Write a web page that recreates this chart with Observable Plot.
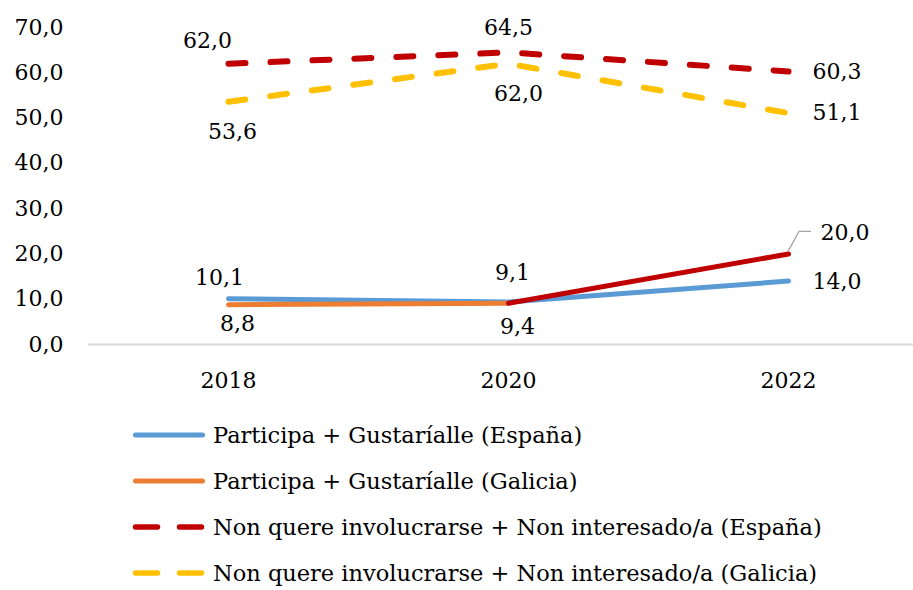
<!DOCTYPE html>
<html><head><meta charset="utf-8">
<script src="https://cdn.jsdelivr.net/npm/d3@7"></script>
<script src="https://cdn.jsdelivr.net/npm/@observablehq/plot@0.6"></script>
<style>
body{margin:0;background:#fff;font-family:"DejaVu Serif",serif;}
#chart{width:913px;height:590px;position:relative;overflow:hidden;background:#fff}
.legend{margin-top:12px}
.row{display:flex;align-items:center;height:46px;padding-left:131px}
.row svg{flex:none}
.row span{margin-left:6px;font-size:22.5px;color:#000;white-space:nowrap}
</style></head><body><div id="chart"></div>
<script>
// ---- data ----
const years = ["2018", "2020", "2022"];
const participaEspana = [10.1, 9.4, 14.0];
const participaGalicia = [8.8, 9.1, 20.0];
const nonQuereEspana = [62.0, 64.5, 60.3];
const nonQuereGalicia = [53.6, 62.0, 51.1];
const seriesNames = [
  "Participa + Gustaríalle (España)",
  "Participa + Gustaríalle (Galicia)",
  "Non quere involucrarse + Non interesado/a (España)",
  "Non quere involucrarse + Non interesado/a (Galicia)"
];
const yTicks = [0, 10, 20, 30, 40, 50, 60, 70];

// ---- styles ----
const C = {blue: "#5B9BD5", orange: "#ED7D31", red: "#C00000", yellow: "#FFC000", axis: "#D9D9D9", leader: "#A6A6A6"};
const fmt = v => v.toFixed(1).replace(".", ",");

// label placements (pixel offsets from each point), per series per year
const placements = [
  [{dx: -9, dy: -21, a: "middle"}, {dx: 9, dy: 25, a: "middle"}, {dx: 24, dy: 1, a: "start"}],
  [{dx: 9, dy: 19, a: "middle"}, {dx: 4, dy: -30, a: "middle"}, {dx: 32, dy: -21, a: "start"}],
  [{dx: -21, dy: -23, a: "middle"}, {dx: 0, dy: -24, a: "middle"}, {dx: 24, dy: 1, a: "start"}],
  [{dx: 4, dy: 30, a: "middle"}, {dx: 10, dy: 30, a: "middle"}, {dx: 24, dy: 0, a: "start"}]
];

const allValues = [participaEspana, participaGalicia, nonQuereEspana, nonQuereGalicia];
const rows = allValues.map((vals, s) => years.map((year, i) => ({series: seriesNames[s], year, value: vals[i]})));

const solidW = 5, dashW = 6, dash = "17,25";

const labelMarks = rows.flatMap((r, s) => r.map((d, i) => {
  const p = placements[s][i];
  return Plot.text([d], {x: "year", y: "value", text: d => fmt(d.value), dx: p.dx, dy: p.dy, textAnchor: p.a, fill: "#000"});
}));

const leader = (index, scales) => {
  const x = scales.x(years[2]), y = scales.y(participaGalicia[2]);
  const path = document.createElementNS("http://www.w3.org/2000/svg", "path");
  path.setAttribute("d", `M${x},${y - 2}L${x + 11},${y - 22}L${x + 23},${y - 22}`);
  path.setAttribute("fill", "none");
  path.setAttribute("stroke", C.leader);
  path.setAttribute("stroke-width", "1.3");
  return path;
};

const chart = Plot.plot({
  width: 913,
  height: 400,
  marginLeft: 88,
  marginRight: 0,
  marginTop: 27,
  marginBottom: 56,
  style: {fontFamily: "DejaVu Serif", fontSize: "22px", color: "#000", background: "#fff", overflow: "visible"},
  x: {type: "point", domain: years, range: [228, 788], padding: 0, tickSize: 0, tickPadding: 28, label: null},
  y: {domain: [0, 70], ticks: yTicks, tickSize: 0, tickPadding: 25, tickFormat: fmt, label: null},
  marks: [
    Plot.ruleY([0], {stroke: C.axis, strokeWidth: 2}),
    Plot.line(rows[2], {x: "year", y: "value", stroke: C.red, strokeWidth: dashW, strokeDasharray: dash, strokeLinecap: "round", strokeLinejoin: "round"}),
    Plot.line(rows[3], {x: "year", y: "value", stroke: C.yellow, strokeWidth: dashW, strokeDasharray: dash, strokeLinecap: "round", strokeLinejoin: "round"}),
    Plot.line(rows[0], {x: "year", y: "value", stroke: C.blue, strokeWidth: solidW, strokeLinecap: "round", strokeLinejoin: "round"}),
    Plot.line(rows[1].slice(0, 2), {x: "year", y: "value", stroke: C.orange, strokeWidth: solidW, strokeLinecap: "round", strokeLinejoin: "round"}),
    Plot.line(rows[1].slice(1), {x: "year", y: "value", stroke: C.red, strokeWidth: solidW, strokeLinecap: "round", strokeLinejoin: "round"}),
    leader,
    ...labelMarks
  ]
});

const root = document.getElementById("chart");
root.appendChild(chart);

// legend
const legendStyles = [
  {color: C.blue, dash: null},
  {color: C.orange, dash: null},
  {color: C.red, dash: "22,22"},
  {color: C.yellow, dash: "22,22"}
];
const legend = document.createElement("div");
legend.className = "legend";
seriesNames.forEach((name, i) => {
  const st = legendStyles[i];
  const row = document.createElement("div");
  row.className = "row";
  const w = st.dash ? dashW - 0.5 : solidW;
  row.innerHTML = `<svg width="76" height="46"><line x1="4.5" x2="${st.dash ? 70.5 : 71.5}" y1="23" y2="23" stroke="${st.color}" stroke-width="${w}" stroke-linecap="round" ${st.dash ? `stroke-dasharray="${st.dash}"` : ""}/></svg><span></span>`;
  row.querySelector("span").textContent = name;
  legend.appendChild(row);
});
root.appendChild(legend);
</script>
</body></html>
